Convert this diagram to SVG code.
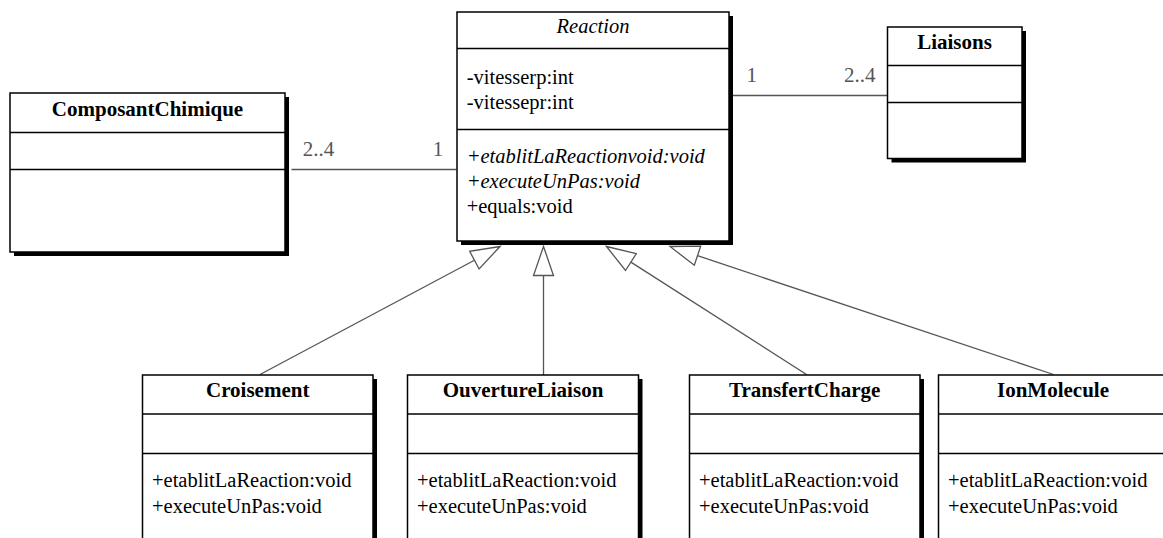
<svg xmlns="http://www.w3.org/2000/svg" width="1163" height="538" viewBox="0 0 1163 538">
<style>
.box{fill:#fff;stroke:#000;stroke-width:1.5}
.sh{fill:#000}
.div{stroke:#000;stroke-width:1.5}
.t{font-family:"Liberation Serif",serif;font-size:20.5px;fill:#000}
.b{font-family:"Liberation Serif",serif;font-size:21px;font-weight:bold;fill:#000;text-anchor:middle}
.i{font-style:italic}
.c{stroke:#555;stroke-width:1.3;fill:none}
.tri{fill:#fff;stroke:#555;stroke-width:1.3}
.lbl{font-family:"Liberation Serif",serif;font-size:21px;fill:#555}
</style>
<rect width="1163" height="538" fill="#fff"/>
<g id="connectors">
<line class="c" x1="291.5" y1="169.5" x2="456.5" y2="169.5"/>
<line class="c" x1="733" y1="95.5" x2="887" y2="95.5"/>
<line class="c" x1="474.4" y1="260.2" x2="260" y2="374.5"/>
<polygon class="tri" points="500,246.5 479.1,269 469.7,251.3"/>
<line class="c" x1="543.5" y1="275.5" x2="543.5" y2="375"/>
<polygon class="tri" points="543.5,246.5 553.5,275.5 533.5,275.5"/>
<line class="c" x1="630.9" y1="262.1" x2="806.5" y2="374.5"/>
<polygon class="tri" points="606.5,246.5 636.3,253.7 625.5,270.5"/>
<line class="c" x1="697.5" y1="255.7" x2="1053.5" y2="374.5"/>
<polygon class="tri" points="670,246.5 700.7,246.2 694.3,265.2"/>
<text class="lbl" x="302.7" y="155.5">2..4</text>
<text class="lbl" x="432.7" y="155.5">1</text>
<text class="lbl" x="746.5" y="82">1</text>
<text class="lbl" x="844" y="82">2..4</text>
</g>
<g id="Reaction">
<rect class="sh" x="461" y="16" width="272" height="229"/>
<rect class="box" x="457" y="12" width="272" height="229"/>
<line class="div" x1="457" y1="48.5" x2="729" y2="48.5"/>
<line class="div" x1="457" y1="129.5" x2="729" y2="129.5"/>
<text class="t i" x="593" y="32.5" text-anchor="middle">Reaction</text>
<text class="t" x="466.7" y="84">-vitesserp:int</text>
<text class="t" x="466.7" y="109">-vitessepr:int</text>
<text class="t i" x="466.7" y="163">+etablitLaReactionvoid:void</text>
<text class="t i" x="466.7" y="188">+executeUnPas:void</text>
<text class="t" x="466.7" y="213">+equals:void</text>
</g>
<g id="ComposantChimique">
<rect class="sh" x="14" y="97" width="275" height="159"/>
<rect class="box" x="10" y="93" width="275" height="159"/>
<line class="div" x1="10" y1="132.5" x2="285" y2="132.5"/>
<line class="div" x1="10" y1="169.5" x2="285" y2="169.5"/>
<text class="b" x="147.5" y="116">ComposantChimique</text>
</g>
<g id="Liaisons">
<rect class="sh" x="891.5" y="31" width="134.5" height="131.5"/>
<rect class="box" x="887.5" y="27" width="134.5" height="131.5"/>
<line class="div" x1="887.5" y1="65.5" x2="1022" y2="65.5"/>
<line class="div" x1="887.5" y1="102.5" x2="1022" y2="102.5"/>
<text class="b" x="954.5" y="48.5">Liaisons</text>
</g>
<g id="Croisement">
<rect class="sh" x="146.5" y="379" width="230.5" height="170"/>
<rect class="box" x="142.5" y="375" width="230.5" height="170"/>
<line class="div" x1="142.5" y1="414" x2="373" y2="414"/>
<line class="div" x1="142.5" y1="453.5" x2="373" y2="453.5"/>
<text class="b" x="257.7" y="397">Croisement</text>
<text class="t" x="152" y="487">+etablitLaReaction:void</text>
<text class="t" x="152" y="512.5">+executeUnPas:void</text>
</g>
<g id="OuvertureLiaison">
<rect class="sh" x="411.5" y="379" width="231" height="170"/>
<rect class="box" x="407.5" y="375" width="231" height="170"/>
<line class="div" x1="407.5" y1="414" x2="638.5" y2="414"/>
<line class="div" x1="407.5" y1="453.5" x2="638.5" y2="453.5"/>
<text class="b" x="523" y="397">OuvertureLiaison</text>
<text class="t" x="417" y="487">+etablitLaReaction:void</text>
<text class="t" x="417" y="512.5">+executeUnPas:void</text>
</g>
<g id="TransfertCharge">
<rect class="sh" x="693.5" y="379" width="230.5" height="170"/>
<rect class="box" x="689.5" y="375" width="230.5" height="170"/>
<line class="div" x1="689.5" y1="414" x2="920" y2="414"/>
<line class="div" x1="689.5" y1="453.5" x2="920" y2="453.5"/>
<text class="b" x="804.7" y="397">TransfertCharge</text>
<text class="t" x="699" y="487">+etablitLaReaction:void</text>
<text class="t" x="699" y="512.5">+executeUnPas:void</text>
</g>
<g id="IonMolecule">
<rect class="sh" x="942.5" y="379" width="231" height="170"/>
<rect class="box" x="938.5" y="375" width="231" height="170"/>
<line class="div" x1="938.5" y1="414" x2="1169.5" y2="414"/>
<line class="div" x1="938.5" y1="453.5" x2="1169.5" y2="453.5"/>
<text class="b" x="1053" y="397">IonMolecule</text>
<text class="t" x="948" y="487">+etablitLaReaction:void</text>
<text class="t" x="948" y="512.5">+executeUnPas:void</text>
</g>
</svg>
